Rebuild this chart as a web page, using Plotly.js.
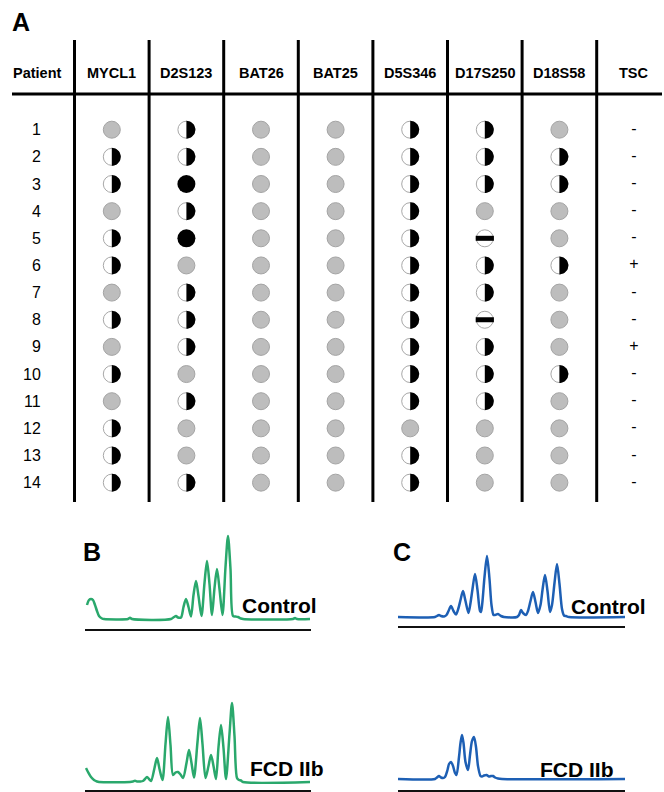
<!DOCTYPE html>
<html><head><meta charset="utf-8">
<script src="https://cdn.plot.ly/plotly-3.0.1.min.js"></script>
<style>html,body{margin:0;padding:0;background:#fff}#chart{width:664px;height:792px}</style>
</head><body><div id="chart"></div>
<script>
// ---------- DATA ----------
const columns = ['Patient','MYCL1','D2S123','BAT26','BAT25','D5S346','D17S250','D18S58','TSC'];
const patients = [1,2,3,4,5,6,7,8,9,10,11,12,13,14];
// G = retained (gray), H = LOH half, F = full loss, B = bar (MSI)
const mycl1   = ['G','H','H','G','H','H','G','H','G','H','G','H','H','H'];
const d2s123  = ['H','H','F','H','F','G','H','H','H','G','H','G','G','H'];
const bat26   = ['G','G','G','G','G','G','G','G','G','G','G','G','G','G'];
const bat25   = ['G','G','G','G','G','G','G','G','G','G','G','G','G','G'];
const d5s346  = ['H','H','H','H','H','H','H','H','H','H','H','G','H','H'];
const d17s250 = ['H','H','H','G','B','H','H','B','H','H','H','G','G','G'];
const d18s58  = ['G','H','H','G','G','H','G','G','G','H','G','G','G','G'];
const tsc     = ['-','-','-','-','-','+','-','-','+','-','-','-','-','-'];

// electropherograms: x = migration position, y = signal above baseline
const bControlX = [2,4,6,8,10,12,14,17,19,43,45,47,86,89,91,93,96,98.5,101,103.5,106,108.5,111,113.5,116.5,119.5,122,124.5,127,129.5,132,134.5,137.5,140.5,143,145.5,148,150.5,153,156,158,208,210,212,225];
const bControlY = [14,19,20,19,14,8,3,0.5,0,0,1.2,0,0,2,3,1.5,1.5,12,20,12,2.5,24,38,23,3,36,58,35,4,31,50,30,4,52,83,50,3,2.5,2,0.5,0,0,1,0,0];

const cControlX = [0,37,39,41,43,46,48.5,50.5,53,55.5,58,60.5,62.5,65,67.5,70.5,72.5,74.5,77,79.5,82,83,84.5,86.5,89,91.5,93.5,95.5,97,100,103,106,119,121,123,125,128,130,132.5,135,137.5,140,142.5,144.5,147,149.5,152,154,156.5,159,161.5,164,166,168,171,227];
const cControlY = [0,0,1,2,1,0.5,2,6,11,6,2.5,9,17,26,16,4,14,28,43,27,6,5,16,40,61,38,12,2,2,3,1,0,0,2,7,4,2,6,16,25,15,4,12,27,42,26,5,12,34,53,33,8,1.5,1,0,0];

const bFcdX = [1,3,6,9,12,14,45,48,50,52,55,58,60,62,64,66,69.5,72,74.5,77.5,80.5,83,85.5,88,90.5,93,95.5,98,101.5,104,106.5,109,112.5,115,117.5,120.5,123.5,126,128.5,131,133.5,136,138.5,141,144.5,147,149.5,152,154,156,158,225];
const bFcdY = [14,10,5,2,0.5,0,0,0.5,1.2,0.5,0.5,1,3,5,3,1,14,24,13,2,38,65,37,7,9.5,10,7.5,4,19,32,19,4.5,40,64,38,4,16,27,16,3,35,57,34,3,48,79,46,4,2,1.5,0,0];

const cFcdX = [0,37,39,41,43,45,47,49.5,51,53,55,57,58.5,61,62.5,64,65.5,67.5,70,72,74,76,78,80,82.5,84,86,88.5,91,93,95,97,100,104,227];
const cFcdY = [0,0,1.5,3,1.5,1,2,9,15,17,13,6,4,22,36,44,36,17,9,24,38,42,32,13,3,2.5,3.5,4,2.5,3,3,1.5,0.5,0,0];

// ---------- LAYOUT CONSTANTS ----------
const W = 664, H = 792;
const colX0 = 37.2, colStep = 74.6, rowY1 = 129.7, rowStep = 27.15, R = 9;
const xRange = [-colX0 / colStep, (W - colX0) / colStep];
const yRange = [1 + (H - rowY1) / rowStep, 1 - rowY1 / rowStep];
const dxPx = 1 / colStep, dyPx = 1 / rowStep;
const py = p => 1 - p / H;
const FONT = 'Liberation Sans, Arial, Helvetica, sans-serif';

const markerCols = [mycl1, d2s123, bat26, bat25, d5s346, d17s250, d18s58];
const gx=[],gy=[],fx=[],fy=[],wx=[],wy=[],bx=[],by=[],hx=[],hy=[];
markerCols.forEach((col, ci) => {
  const c = ci + 1;
  col.forEach((code, ri) => {
    const r = patients[ri];
    if (code === 'G') { gx.push(c); gy.push(r); }
    else if (code === 'F') { fx.push(c); fy.push(r); }
    else {
      wx.push(c); wy.push(r);
      if (code === 'B') { bx.push(c); by.push(r); }
      if (code === 'H') {
        for (let k = 0; k <= 24; k++) {
          const t = -Math.PI / 2 + Math.PI * k / 24;
          hx.push(c + R * Math.cos(t) * dxPx);
          hy.push(r + R * Math.sin(t) * dyPx);
        }
        hx.push(c); hy.push(r - R * dyPx);
        hx.push(null); hy.push(null);
      }
    }
  });
});

const LW = 2.5;
const traces = [
  {x: wx, y: wy, type:'scatter', mode:'markers', xaxis:'x', yaxis:'y', hoverinfo:'skip',
   marker:{symbol:'circle', size:17, color:'#ffffff', line:{color:'#a8a8a8', width:1}}},
  {x: hx, y: hy, type:'scatter', mode:'lines', fill:'toself', fillcolor:'#000000',
   line:{width:0, color:'#000000'}, connectgaps:false, xaxis:'x', yaxis:'y', hoverinfo:'skip'},
  {x: bx, y: by, type:'scatter', mode:'markers', xaxis:'x', yaxis:'y', hoverinfo:'skip',
   marker:{symbol:'line-ew', size:13, color:'#000', line:{color:'#000000', width:5}}},
  {x: gx, y: gy, type:'scatter', mode:'markers', xaxis:'x', yaxis:'y', hoverinfo:'skip',
   marker:{symbol:'circle', size:17, color:'#bdbdbd', line:{color:'#a4a4a4', width:1}}},
  {x: fx, y: fy, type:'scatter', mode:'markers', xaxis:'x', yaxis:'y', hoverinfo:'skip',
   marker:{symbol:'circle', size:18, color:'#000000', line:{width:0}}},
  {x: patients.map(() => 8), y: patients, text: tsc, type:'scatter', mode:'text', xaxis:'x', yaxis:'y',
   textfont:{family:FONT, size:16, color:'#000'}, hoverinfo:'skip'},
  {x: bControlX, y: bControlY, type:'scatter', mode:'lines', xaxis:'x2', yaxis:'y2',
   line:{color:'#2aa86c', width:LW, shape:'spline', smoothing:0.8}},
  {x: cControlX, y: cControlY, type:'scatter', mode:'lines', xaxis:'x3', yaxis:'y3',
   line:{color:'#1d5fb4', width:LW, shape:'spline', smoothing:0.8}},
  {x: bFcdX, y: bFcdY, type:'scatter', mode:'lines', xaxis:'x4', yaxis:'y4',
   line:{color:'#2aa86c', width:LW, shape:'spline', smoothing:0.8}},
  {x: cFcdX, y: cFcdY, type:'scatter', mode:'lines', xaxis:'x5', yaxis:'y5',
   line:{color:'#1d5fb4', width:LW, shape:'spline', smoothing:0.8}}
];

const shapes = [];
for (let i = 0; i < columns.length - 1; i++) {
  shapes.push({type:'line', xref:'x', yref:'paper', x0:i + 0.5, x1:i + 0.5, y0:py(502), y1:py(40),
               line:{color:'#000', width:3}});
}
shapes.push({type:'line', xref:'paper', yref:'paper', x0:12 / W, x1:662 / W, y0:py(94), y1:py(94),
             line:{color:'#000', width:3}});

const annotations = [];
columns.forEach((c, i) => annotations.push({x:i, y:-1.09, xref:'x', yref:'y', text:'<b>' + c + '</b>',
  showarrow:false, font:{family:FONT, size:14.5, color:'#000'}}));
patients.forEach(p => annotations.push({x:0, y:p, xref:'x', yref:'y', text:String(p), xanchor:'right',
  xshift:6, showarrow:false, font:{family:FONT, size:16, color:'#000'}}));
const label = (t, xl, yc, s) => ({x:xl / W, y:py(yc), xref:'paper', yref:'paper', text:'<b>' + t + '</b>',
  xanchor:'left', yanchor:'middle', showarrow:false, font:{family:FONT, size:s, color:'#000'}});
annotations.push(label('A', 10, 22, 25), label('B', 81, 552, 25), label('C', 391, 552, 25),
  label('Control', 240, 605, 21), label('Control', 569, 606, 21),
  label('FCD IIb', 248, 768, 21), label('FCD IIb', 538, 769, 21));

const chromAxis = (x0, x1, xmax) => ({domain:[x0 / W, x1 / W], range:[0, xmax], showline:true, linecolor:'#111',
  linewidth:2, showgrid:false, zeroline:false, showticklabels:false, ticks:'', fixedrange:true});
const chromY = (top, bottom, ymin, anchor) => ({domain:[py(bottom), py(top)], range:[ymin, ymin + (bottom - top)],
  visible:false, fixedrange:true, anchor:anchor});

const layout = {
  width:W, height:H, margin:{l:0, r:0, t:0, b:0}, paper_bgcolor:'#fff', plot_bgcolor:'rgba(0,0,0,0)',
  showlegend:false, font:{family:FONT},
  xaxis:{domain:[0, 1], range:xRange, visible:false, fixedrange:true},
  yaxis:{domain:[0, 1], range:yRange, visible:false, fixedrange:true},
  xaxis2:Object.assign(chromAxis(85, 311, 226), {anchor:'y2'}),
  yaxis2:chromY(528.5, 628.5, -9.5, 'x2'),
  xaxis3:Object.assign(chromAxis(398, 625, 227), {anchor:'y3'}),
  yaxis3:chromY(526, 626, -9, 'x3'),
  xaxis4:Object.assign(chromAxis(85, 311, 226), {anchor:'y4'}),
  yaxis4:chromY(689.5, 789.5, -7.5, 'x4'),
  xaxis5:Object.assign(chromAxis(398, 625, 227), {anchor:'y5'}),
  yaxis5:chromY(689.5, 789.5, -10.5, 'x5'),
  shapes:shapes, annotations:annotations
};
Plotly.newPlot('chart', traces, layout, {staticPlot:true, displayModeBar:false});
</script></body></html>
